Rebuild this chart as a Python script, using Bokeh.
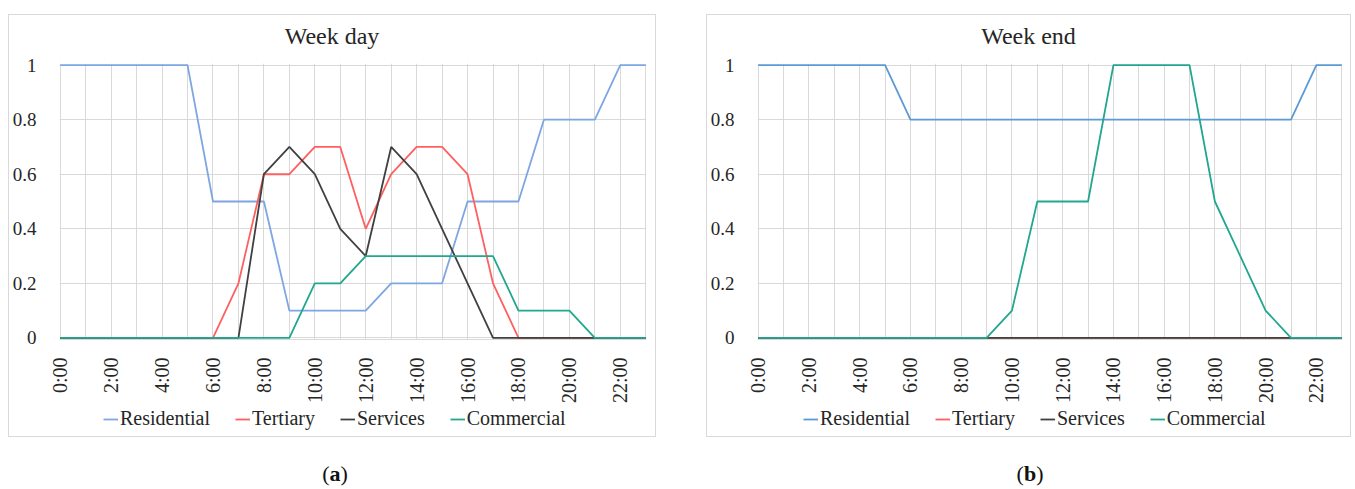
from math import pi
from bokeh.plotting import figure
from bokeh.models import Range1d, FixedTicker, Legend, LegendItem, Div, Spacer
from bokeh.layouts import row, column
from bokeh.embed import file_html
from bokeh.resources import INLINE

# ---------------- data ----------------
hours = [0, 1, 2, 3, 4, 5, 6, 7, 8, 9, 10, 11, 12, 13, 14, 15, 16, 17, 18, 19, 20, 21, 22, 23]
tick_hours = [0, 2, 4, 6, 8, 10, 12, 14, 16, 18, 20, 22]
tick_labels = ["0:00", "2:00", "4:00", "6:00", "8:00", "10:00", "12:00", "14:00",
               "16:00", "18:00", "20:00", "22:00"]
y_ticks = [0, 0.2, 0.4, 0.6, 0.8, 1]
y_labels = ["0", "0.2", "0.4", "0.6", "0.8", "1"]
series_names = ["Residential", "Tertiary", "Services", "Commercial"]

wd_residential = [1, 1, 1, 1, 1, 1, 0.5, 0.5, 0.5, 0.1, 0.1, 0.1, 0.1, 0.2, 0.2, 0.2, 0.5, 0.5, 0.5, 0.8, 0.8, 0.8, 1, 1]
wd_tertiary = [0, 0, 0, 0, 0, 0, 0, 0.2, 0.6, 0.6, 0.7, 0.7, 0.4, 0.6, 0.7, 0.7, 0.6, 0.2, 0, 0, 0, 0, 0, 0]
wd_services = [0, 0, 0, 0, 0, 0, 0, 0, 0.6, 0.7, 0.6, 0.4, 0.3, 0.7, 0.6, 0.4, 0.2, 0, 0, 0, 0, 0, 0, 0]
wd_commercial = [0, 0, 0, 0, 0, 0, 0, 0, 0, 0, 0.2, 0.2, 0.3, 0.3, 0.3, 0.3, 0.3, 0.3, 0.1, 0.1, 0.1, 0, 0, 0]

we_residential = [1, 1, 1, 1, 1, 1, 0.8, 0.8, 0.8, 0.8, 0.8, 0.8, 0.8, 0.8, 0.8, 0.8, 0.8, 0.8, 0.8, 0.8, 0.8, 0.8, 1, 1]
we_tertiary = [0, 0, 0, 0, 0, 0, 0, 0, 0, 0, 0, 0, 0, 0, 0, 0, 0, 0, 0, 0, 0, 0, 0, 0]
we_services = [0, 0, 0, 0, 0, 0, 0, 0, 0, 0, 0, 0, 0, 0, 0, 0, 0, 0, 0, 0, 0, 0, 0, 0]
we_commercial = [0, 0, 0, 0, 0, 0, 0, 0, 0, 0, 0.1, 0.5, 0.5, 0.5, 1, 1, 1, 1, 0.5, 0.3, 0.1, 0, 0, 0]

FONT = "Liberation Serif"
TEXT = "#262626"
GRID = "#d9d9d9"
TITLE_H = 35
LEG_H = 30
BOX_H = 421


def make_panel(title, series, colors, width, border_left, border_right, legend_x):
    head = Div(text=title, width=width, height=TITLE_H, margin=0,
               styles={"font-family": FONT, "font-size": "24px", "color": TEXT,
                       "text-align": "center", "line-height": "43px",
                       "background": "white"})

    p = figure(width=width, height=BOX_H - TITLE_H - LEG_H, output_backend="svg",
               toolbar_location=None,
               x_range=Range1d(-0.03, 23.03), y_range=Range1d(-0.006, 1.006),
               min_border_left=border_left, min_border_right=border_right,
               min_border_top=13, min_border_bottom=67)
    p.outline_line_color = None
    p.background_fill_color = "white"
    p.border_fill_color = "white"

    p.xaxis.ticker = FixedTicker(ticks=tick_hours)
    p.xaxis.major_label_overrides = dict(zip(tick_hours, tick_labels))
    p.xaxis.major_label_orientation = pi / 2
    p.xaxis.major_label_text_font = FONT
    p.xaxis.major_label_text_font_size = "20px"
    p.xaxis.major_label_text_color = TEXT
    p.xaxis.major_label_standoff = 12
    p.xaxis.axis_line_color = GRID
    p.xaxis.major_tick_line_color = None
    p.xaxis.minor_tick_line_color = None

    p.yaxis.ticker = FixedTicker(ticks=y_ticks)
    p.yaxis.major_label_overrides = dict(zip(y_ticks, y_labels))
    p.yaxis.major_label_text_font = FONT
    p.yaxis.major_label_text_font_size = "19px"
    p.yaxis.major_label_text_color = TEXT
    p.yaxis.major_label_standoff = 17
    p.yaxis.axis_line_color = None
    p.yaxis.major_tick_line_color = None
    p.yaxis.minor_tick_line_color = None

    p.xgrid.ticker = FixedTicker(ticks=hours)
    p.xgrid.grid_line_color = GRID
    p.ygrid.ticker = FixedTicker(ticks=y_ticks)
    p.ygrid.grid_line_color = GRID

    for ys, c in zip(series, colors):
        p.line(hours, ys, line_color=c, line_width=1.8)

    # legend strip: its own small canvas below the chart (series drawn out of view)
    lg = figure(width=width, height=LEG_H, output_backend="svg", toolbar_location=None,
                x_range=Range1d(0, 1), y_range=Range1d(50, 51),
                x_axis_location=None, y_axis_location=None,
                min_border_left=0, min_border_right=0, min_border_top=0, min_border_bottom=0)
    lg.grid.visible = False
    lg.outline_line_color = None
    lg.border_fill_color = "white"
    lg.background_fill_color = "white"
    items = []
    for name, ys, c in zip(series_names, series, colors):
        r = lg.line(hours, ys, line_color=c, line_width=1.8)
        items.append(LegendItem(label=name, renderers=[r]))
    legend = Legend(items=items, orientation="horizontal", location=(legend_x, 6),
                    border_line_color=None, background_fill_alpha=0,
                    label_text_font=FONT, label_text_font_size="20px",
                    label_text_color=TEXT, glyph_width=15, glyph_height=20,
                    label_standoff=2, spacing=25, padding=2, margin=0)
    lg.add_layout(legend)
    return column(head, p, lg, styles={"border": "1px solid #d9d9d9"})


box1 = make_panel("Week day",
                  [wd_residential, wd_tertiary, wd_services, wd_commercial],
                  ["#7ea6e2", "#ff5f5f", "#404040", "#21a78f"], 646, 48, 9, 44)
box2 = make_panel("Week end",
                  [we_residential, we_tertiary, we_services, we_commercial],
                  ["#5b9bd5", "#ff5f5f", "#404040", "#21a78f"], 643, 47, 8, 46)

cap_style = {"font-family": FONT, "font-size": "22px", "color": "#111",
             "text-align": "center", "line-height": "24px"}
cap_a = Div(text="(<b>a</b>)", width=60, height=26, margin=0, styles=cap_style)
cap_b = Div(text="(<b>b</b>)", width=60, height=26, margin=0, styles=cap_style)

layout = column(
    Spacer(height=14),
    row(Spacer(width=8), box1, Spacer(width=50), box2),
    Spacer(height=25),
    row(Spacer(width=305), cap_a, Spacer(width=635), cap_b),
)

open("out.html", "w").write(file_html(layout, INLINE))
